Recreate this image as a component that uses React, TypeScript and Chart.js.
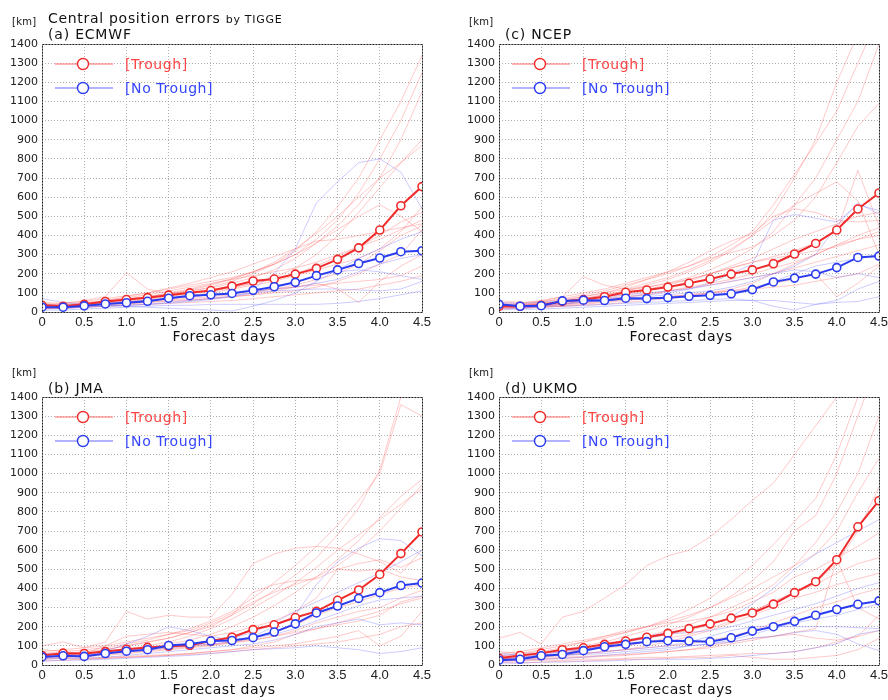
import React, { useEffect, useRef } from "react";
import { Chart, registerables } from "chart.js";
Chart.register(...registerables);

// ---------------- DATA ----------------
const DAYS = [0, 0.25, 0.5, 0.75, 1, 1.25, 1.5, 1.75, 2, 2.25, 2.5, 2.75, 3, 3.25, 3.5, 3.75, 4, 4.25, 4.5];
const X_TICK_LABELS = ["0", "0.5", "1.0", "1.5", "2.0", "2.5", "3.0", "3.5", "4.0", "4.5"];
const Y_MAX = 1400;
const LEGEND_LABELS = ["[Trough]", "[No Trough]"];
const MAIN_TITLE = "Central position errors";
const MAIN_TITLE_SUFFIX = "by TIGGE";
const X_TITLE = "Forecast days";
const UNIT = "[km]";

// (a) ECMWF
const ECMWF_TROUGH_MEAN = [35, 30, 40, 55, 65, 75, 88, 100, 112, 135, 162, 172, 198, 228, 275, 335, 428, 555, 655];
const ECMWF_NOTROUGH_MEAN = [25, 25, 32, 42, 48, 56, 72, 85, 90, 97, 113, 132, 155, 190, 220, 253, 282, 315, 320];
const ECMWF_TROUGH_CASES = [
  [20, 25, 35, 50, 60, 75, 90, 110, 130, 160, 200, 250, 320, 420, 550, 700, 900, 1100, 1340],
  [30, 35, 45, 55, 70, 80, 95, 110, 125, 150, 180, 220, 280, 360, 450, 560, 700, 900, 1150],
  [40, 30, 40, 60, 80, 100, 120, 140, 160, 180, 210, 250, 300, 380, 480, 620, 800, 1000, 1250],
  [25, 30, 35, 45, 55, 65, 80, 95, 110, 130, 150, 180, 230, 300, 400, 520, 650, 780, 900],
  [30, 45, 60, 80, 205, 120, 95, 100, 110, 125, 150, 170, 200, 240, 290, 340, 400, 470, 520],
  [20, 20, 30, 40, 50, 60, 70, 85, 100, 120, 140, 160, 190, 220, 250, 280, 330, 420, 550],
  [45, 40, 50, 60, 75, 90, 110, 130, 150, 170, 190, 210, 230, 260, 300, 340, 380, 430, 480],
  [30, 30, 35, 40, 45, 55, 65, 70, 80, 90, 100, 120, 140, 170, 200, 250, 320, 400, 450],
  [15, 20, 25, 30, 40, 50, 60, 65, 70, 80, 90, 100, 110, 130, 160, 200, 250, 300, 430],
  [50, 45, 55, 70, 85, 100, 125, 150, 180, 210, 250, 290, 330, 370, 380, 400, 420, 440, 460],
  [20, 25, 30, 40, 45, 50, 55, 60, 70, 80, 90, 110, 130, 150, 120, 50, 160, 240, 300],
  [35, 30, 40, 45, 55, 60, 70, 80, 90, 100, 110, 120, 130, 140, 150, 160, 170, 190, 240],
  [25, 20, 25, 30, 35, 40, 45, 50, 55, 60, 70, 80, 90, 100, 110, 120, 140, 160, 190],
  [40, 35, 45, 55, 65, 80, 95, 115, 140, 170, 210, 260, 330, 410, 500, 600, 700, 780, 870],
  [30, 30, 40, 50, 65, 80, 100, 120, 145, 175, 210, 250, 300, 360, 430, 500, 560, 500, 420],
];
const ECMWF_NOTROUGH_CASES = [
  [30, 25, 30, 40, 50, 60, 70, 80, 90, 100, 120, 200, 330, 570, 680, 780, 800, 730, 540],
  [70, 50, 40, 35, 30, 25, 20, 15, 10, 5, 30, 60, 100, 160, 220, 280, 330, 380, 420],
  [20, 20, 25, 30, 35, 40, 45, 55, 65, 80, 100, 130, 160, 190, 210, 220, 210, 190, 170],
  [10, 10, 15, 20, 25, 30, 35, 35, 40, 40, 40, 40, 40, 40, 45, 55, 70, 90, 110],
  [40, 35, 40, 50, 55, 60, 70, 80, 90, 100, 110, 120, 130, 150, 170, 210, 250, 280, 300],
  [25, 20, 25, 30, 35, 40, 50, 60, 70, 85, 100, 110, 115, 120, 120, 115, 110, 120, 160],
];

// (c) NCEP
const NCEP_TROUGH_MEAN = [30, 30, 35, 55, 65, 80, 103, 115, 130, 150, 172, 198, 220, 252, 303, 358, 428, 538, 622];
const NCEP_NOTROUGH_MEAN = [40, 30, 33, 58, 62, 60, 72, 70, 75, 82, 87, 95, 117, 157, 177, 198, 232, 285, 292];
const NCEP_TROUGH_CASES = [
  [30, 35, 45, 55, 70, 90, 110, 140, 170, 210, 260, 320, 400, 520, 700, 900, 1200, 1450, 1700],
  [40, 35, 50, 70, 90, 110, 140, 170, 200, 240, 290, 350, 420, 560, 720, 880, 1050, 1300, 1550],
  [25, 30, 40, 55, 70, 90, 110, 130, 150, 180, 220, 270, 330, 420, 560, 700, 900, 1100, 1400],
  [50, 45, 60, 80, 100, 120, 150, 180, 210, 240, 280, 310, 340, 400, 480, 600, 780, 970, 1090],
  [35, 40, 55, 80, 185, 140, 120, 130, 150, 170, 200, 230, 260, 290, 320, 360, 420, 740, 450],
  [30, 30, 40, 60, 80, 100, 130, 170, 210, 260, 320, 370, 410, 500, 540, 520, 480, 470, 480],
  [20, 25, 30, 40, 55, 70, 90, 110, 130, 160, 200, 240, 280, 330, 380, 420, 460, 500, 520],
  [45, 40, 45, 55, 70, 85, 100, 120, 140, 170, 200, 230, 260, 280, 300, 320, 340, 380, 420],
  [25, 25, 30, 40, 50, 60, 75, 90, 110, 130, 150, 170, 200, 230, 260, 300, 350, 380, 400],
  [35, 30, 35, 45, 55, 65, 80, 95, 110, 125, 140, 160, 180, 200, 230, 260, 290, 320, 350],
  [15, 20, 25, 30, 40, 50, 60, 70, 80, 90, 100, 110, 130, 150, 170, 200, 80, 150, 240],
  [30, 25, 30, 35, 45, 55, 65, 70, 80, 90, 100, 110, 120, 130, 140, 160, 180, 200, 250],
  [60, 50, 55, 65, 80, 100, 120, 150, 180, 220, 270, 330, 400, 480, 560, 620, 680, 580, 300],
  [20, 20, 25, 30, 35, 40, 50, 60, 70, 80, 100, 120, 150, 200, 250, 300, 350, 400, 440],
];
const NCEP_NOTROUGH_CASES = [
  [40, 35, 40, 50, 60, 70, 80, 90, 100, 120, 150, 200, 250, 480, 510, 490, 470, 560, 530],
  [30, 25, 30, 40, 50, 60, 70, 80, 90, 100, 110, 130, 160, 200, 240, 300, 450, 570, 510],
  [20, 20, 25, 30, 35, 40, 45, 50, 55, 60, 65, 70, 60, 30, 10, 40, 60, 120, 160],
  [10, 15, 15, 20, 25, 30, 35, 40, 45, 50, 55, 60, 60, 60, 50, 40, 50, 55, 80],
  [50, 45, 50, 60, 70, 80, 90, 100, 110, 120, 140, 160, 180, 200, 220, 210, 180, 200, 180],
  [35, 30, 35, 45, 55, 60, 65, 70, 75, 80, 90, 100, 120, 160, 200, 240, 260, 280, 300],
];

// (b) JMA
const JMA_TROUGH_MEAN = [50, 62, 60, 70, 82, 92, 98, 103, 125, 145, 185, 210, 248, 280, 338, 392, 473, 582, 695];
const JMA_NOTROUGH_MEAN = [42, 48, 45, 60, 72, 80, 102, 110, 125, 128, 143, 172, 215, 272, 308, 348, 378, 415, 428];
const JMA_TROUGH_CASES = [
  [60, 70, 80, 90, 110, 130, 160, 190, 230, 280, 350, 430, 520, 620, 730, 860, 1000, 1360, 1300],
  [50, 60, 70, 80, 100, 120, 140, 170, 210, 260, 320, 390, 470, 560, 680, 820, 1020, 1400, 1600],
  [40, 45, 50, 60, 75, 90, 110, 130, 160, 200, 250, 310, 380, 460, 550, 650, 770, 880, 970],
  [70, 80, 90, 100, 120, 140, 160, 180, 220, 270, 330, 380, 420, 460, 520, 600, 700, 820, 940],
  [30, 40, 50, 60, 80, 100, 120, 150, 190, 240, 300, 360, 430, 510, 600, 680, 760, 840, 920],
  [100, 120, 90, 120, 280, 240, 260, 250, 250, 370, 530, 580, 610, 620, 610, 580, 540, 480, 600],
  [80, 70, 60, 80, 100, 120, 140, 170, 200, 260, 380, 420, 440, 450, 500, 530, 550, 510, 560],
  [50, 40, 60, 100, 150, 160, 170, 160, 150, 170, 200, 230, 280, 350, 500, 490, 500, 460, 440],
  [40, 50, 45, 50, 60, 70, 80, 90, 100, 120, 140, 170, 210, 260, 300, 330, 370, 400, 420],
  [60, 55, 50, 55, 65, 75, 85, 95, 105, 115, 130, 150, 180, 220, 250, 280, 300, 350, 390],
  [30, 35, 30, 35, 40, 45, 50, 60, 70, 80, 100, 120, 160, 190, 220, 250, 280, 320, 350],
  [45, 40, 35, 40, 45, 50, 55, 60, 70, 80, 90, 100, 110, 130, 150, 180, 100, 150, 280],
  [50, 55, 60, 65, 70, 80, 90, 100, 110, 120, 130, 150, 170, 190, 210, 230, 260, 330, 360],
  [20, 25, 30, 35, 40, 45, 50, 55, 60, 70, 80, 90, 100, 110, 120, 140, 160, 200, 220],
];
const JMA_NOTROUGH_CASES = [
  [40, 45, 50, 70, 110, 150, 200, 180, 150, 130, 150, 200, 260, 420, 540, 610, 660, 650, 570],
  [50, 55, 60, 70, 80, 90, 100, 110, 120, 140, 170, 220, 280, 330, 380, 430, 480, 540, 600],
  [30, 35, 35, 40, 50, 60, 70, 80, 90, 100, 110, 130, 160, 200, 220, 240, 210, 220, 210],
  [20, 25, 25, 30, 35, 40, 45, 50, 60, 70, 80, 85, 90, 100, 90, 80, 60, 70, 90],
  [60, 55, 50, 60, 70, 80, 90, 100, 110, 120, 140, 160, 190, 230, 270, 310, 340, 350, 360],
];

// (d) UKMO
const UKMO_TROUGH_MEAN = [35, 50, 62, 80, 90, 108, 125, 145, 165, 190, 215, 245, 272, 318, 378, 435, 550, 722, 858];
const UKMO_NOTROUGH_MEAN = [25, 30, 48, 55, 75, 95, 108, 122, 127, 125, 122, 142, 177, 200, 228, 260, 290, 317, 335];
const UKMO_TROUGH_CASES = [
  [140, 170, 110, 250, 280, 350, 420, 520, 570, 600, 670, 760, 860, 950, 1100, 1250, 1400, 1550, 1700],
  [50, 60, 80, 100, 120, 140, 170, 200, 240, 290, 350, 430, 520, 630, 750, 870, 1100, 1400, 1700],
  [40, 50, 60, 80, 100, 120, 150, 180, 210, 250, 300, 360, 440, 540, 700, 780, 1000, 1300, 1600],
  [30, 40, 50, 60, 80, 100, 120, 150, 180, 210, 250, 300, 350, 420, 520, 640, 800, 1000, 1300],
  [60, 70, 90, 110, 130, 150, 170, 200, 230, 260, 300, 350, 400, 460, 520, 580, 700, 900, 1080],
  [20, 30, 40, 60, 80, 100, 120, 140, 160, 180, 210, 240, 280, 330, 380, 430, 530, 700, 930],
  [70, 60, 70, 90, 120, 150, 180, 200, 220, 230, 250, 280, 330, 380, 460, 500, 560, 620, 690],
  [40, 50, 60, 70, 80, 90, 100, 120, 140, 160, 190, 230, 280, 330, 380, 420, 480, 530, 560],
  [30, 35, 40, 50, 60, 70, 80, 100, 120, 150, 180, 220, 260, 300, 350, 380, 420, 450, 480],
  [50, 45, 50, 55, 60, 70, 80, 90, 100, 110, 130, 150, 180, 220, 260, 300, 330, 370, 400],
  [25, 25, 30, 35, 40, 45, 50, 60, 70, 80, 90, 110, 130, 150, 170, 190, 550, 300, 240],
  [35, 30, 35, 40, 45, 50, 55, 60, 70, 80, 100, 120, 140, 150, 160, 140, 130, 150, 180],
  [20, 20, 25, 25, 30, 30, 35, 40, 40, 45, 50, 55, 60, 60, 70, 90, 120, 150, 260],
  [15, 10, 15, 20, 20, 25, 30, 30, 35, 40, 40, 50, 40, 30, 30, 40, 50, 80, 140],
];
const UKMO_NOTROUGH_CASES = [
  [30, 40, 50, 70, 90, 110, 130, 150, 170, 190, 210, 250, 320, 400, 500, 580, 640, 700, 760],
  [50, 55, 60, 70, 80, 100, 120, 140, 160, 170, 180, 200, 230, 260, 290, 320, 360, 400, 430],
  [20, 25, 30, 35, 40, 50, 60, 70, 80, 100, 110, 130, 160, 190, 220, 240, 260, 290, 320],
  [40, 40, 45, 50, 60, 70, 80, 90, 100, 120, 150, 180, 200, 200, 200, 200, 200, 195, 190],
  [10, 10, 15, 15, 20, 20, 25, 30, 30, 30, 35, 40, 50, 60, 70, 90, 110, 160, 180],
  [60, 55, 50, 50, 55, 60, 70, 80, 90, 100, 110, 120, 140, 150, 170, 180, 160, 110, 75],
];

// ---------------- STYLE ----------------
const RED = "#f02a2a";
const BLUE = "#2a3cf0";
const FAINT_RED = "rgba(255,90,90,0.33)";
const FAINT_BLUE = "rgba(100,100,255,0.33)";
const LEGEND_LINE = ["rgba(255,120,120,0.75)", "rgba(120,120,255,0.75)"];
const LEGEND_TEXT = ["#ff4545", "#3545ff"];
const FONT = "'DejaVu Sans', sans-serif";

const PAD_L = 42;
const PAD_T = 44;
const PAD_R = 22;
const PAD_B = 40;
const PLOT_W = 380;
const PLOT_H = 268;

type PanelProps = {
  left: number;
  top: number;
  troughMean: number[];
  noTroughMean: number[];
  troughCases: number[][];
  noTroughCases: number[][];
};

const toPts = (arr: number[]) => DAYS.map((d, i) => ({ x: d, y: arr[i] }));

const framePlugin = {
  id: "frameAndLegend",
  afterDraw(chart: any) {
    const { ctx, chartArea } = chart;
    const { left, top, right, bottom } = chartArea;
    ctx.save();
    ctx.strokeStyle = "#222";
    ctx.lineWidth = 1;
    ctx.setLineDash([2, 1]);
    ctx.strokeRect(Math.round(left) + 0.5, Math.round(top) + 0.5, Math.round(right - left), Math.round(bottom - top));
    ctx.setLineDash([]);
    const colors = [RED, BLUE];
    for (let i = 0; i < 2; i++) {
      const y = top + 20 + 24 * i;
      ctx.strokeStyle = LEGEND_LINE[i];
      ctx.lineWidth = 1.3;
      ctx.beginPath();
      ctx.moveTo(left + 13, y);
      ctx.lineTo(left + 71, y);
      ctx.stroke();
      ctx.beginPath();
      ctx.arc(left + 41, y, 5.5, 0, Math.PI * 2);
      ctx.fillStyle = "#fff";
      ctx.fill();
      ctx.strokeStyle = colors[i];
      ctx.lineWidth = 1.4;
      ctx.stroke();
      ctx.fillStyle = LEGEND_TEXT[i];
      ctx.font = `14px ${FONT}`;
      (ctx as any).letterSpacing = "0.6px";
      ctx.textBaseline = "middle";
      ctx.textAlign = "left";
      ctx.fillText(LEGEND_LABELS[i], left + 83, y + 1);
      (ctx as any).letterSpacing = "0px";
    }
    ctx.restore();
  },
};

function Panel(p: PanelProps) {
  const ref = useRef<HTMLCanvasElement>(null);
  useEffect(() => {
    const datasets: any[] = [];
    datasets.push({
      data: toPts(p.noTroughMean),
      borderColor: BLUE,
      borderWidth: 2,
      pointRadius: 4,
      pointBorderWidth: 1.6,
      pointBackgroundColor: "#fff",
      pointBorderColor: BLUE,
    });
    datasets.push({
      data: toPts(p.troughMean),
      borderColor: RED,
      borderWidth: 2,
      pointRadius: 4,
      pointBorderWidth: 1.6,
      pointBackgroundColor: "#fff",
      pointBorderColor: RED,
    });
    p.noTroughCases.forEach((c) =>
      datasets.push({ data: toPts(c), borderColor: FAINT_BLUE, borderWidth: 1, pointRadius: 0 })
    );
    p.troughCases.forEach((c) =>
      datasets.push({ data: toPts(c), borderColor: FAINT_RED, borderWidth: 1, pointRadius: 0 })
    );
    const gridOpts = { color: "#b0b0b0", drawTicks: false, lineWidth: 1 };
    const borderOpts = { display: false, dash: [1, 2] };
    const chart = new Chart(ref.current as HTMLCanvasElement, {
      type: "line",
      data: { datasets },
      plugins: [framePlugin],
      options: {
        animation: false,
        responsive: false,
        devicePixelRatio: 1,
        layout: { padding: { left: 0, top: PAD_T, right: PAD_R, bottom: 0 } },
        elements: { line: { tension: 0 } },
        plugins: { legend: { display: false }, tooltip: { enabled: false } },
        events: [],
        scales: {
          x: {
            type: "linear",
            min: 0,
            max: 4.5,
            afterFit: (s: any) => {
              s.height = PAD_B;
            },
            border: borderOpts,
            grid: gridOpts,
            ticks: {
              stepSize: 0.5,
              padding: 3,
              color: "#222",
              font: { family: "'Liberation Sans', sans-serif", size: 13 },
              maxRotation: 0,
              autoSkip: false,
              callback: (_v: any, i: number) => X_TICK_LABELS[i],
            },
          },
          y: {
            type: "linear",
            min: 0,
            max: Y_MAX,
            afterFit: (s: any) => {
              s.width = PAD_L;
            },
            border: borderOpts,
            grid: gridOpts,
            ticks: {
              stepSize: 100,
              padding: 4,
              color: "#222",
              autoSkip: false,
              font: { family: FONT, size: 11 },
              callback: (v: any) => String(v),
            },
          },
        },
      },
    } as any);
    return () => chart.destroy();
  }, []);
  const w = PAD_L + PLOT_W + PAD_R;
  const h = PAD_T + PLOT_H + PAD_B;
  return (
    <canvas
      ref={ref}
      width={w}
      height={h}
      style={{ position: "absolute", left: p.left - PAD_L, top: p.top - PAD_T, width: w, height: h }}
    />
  );
}

const txt = (left: number, cy: number, size: number, content: any, extra: any = {}) => (
  <div
    style={{
      position: "absolute",
      left,
      top: cy - Math.round(size * 0.6),
      fontSize: size,
      lineHeight: `${Math.round(size * 1.2)}px`,
      fontFamily: FONT,
      color: "#111",
      whiteSpace: "nowrap",
      ...extra,
    }}
  >
    {content}
  </div>
);

export default function App() {
  useEffect(() => {
    document.body.style.margin = "0";
  }, []);
  const panels = [
    { left: 42, top: 44, name: "(a) ECMWF", tm: ECMWF_TROUGH_MEAN, nm: ECMWF_NOTROUGH_MEAN, tc: ECMWF_TROUGH_CASES, nc: ECMWF_NOTROUGH_CASES },
    { left: 499, top: 44, name: "(c) NCEP", tm: NCEP_TROUGH_MEAN, nm: NCEP_NOTROUGH_MEAN, tc: NCEP_TROUGH_CASES, nc: NCEP_NOTROUGH_CASES },
    { left: 42, top: 397, name: "(b) JMA", tm: JMA_TROUGH_MEAN, nm: JMA_NOTROUGH_MEAN, tc: JMA_TROUGH_CASES, nc: JMA_NOTROUGH_CASES },
    { left: 499, top: 397, name: "(d) UKMO", tm: UKMO_TROUGH_MEAN, nm: UKMO_NOTROUGH_MEAN, tc: UKMO_TROUGH_CASES, nc: UKMO_NOTROUGH_CASES },
  ];
  return (
    <div style={{ position: "relative", width: 888, height: 700, overflow: "hidden", background: "#fff" }}>
      {panels.map((p, i) => (
        <Panel
          key={i}
          left={p.left}
          top={p.top}
          troughMean={p.tm}
          noTroughMean={p.nm}
          troughCases={p.tc}
          noTroughCases={p.nc}
        />
      ))}
      {txt(48, 18, 14, (
        <>
          {MAIN_TITLE} <span style={{ fontSize: 11 }}>{MAIN_TITLE_SUFFIX}</span>
        </>
      ), { letterSpacing: "0.7px" })}
      {panels.map((p, i) => (
        <React.Fragment key={"t" + i}>
          {txt(p.left - 30, p.top - (i < 2 ? 22 : 24), 10, UNIT, { letterSpacing: "0.3px" })}
          {txt(p.left + 6, p.top - (i < 2 ? 10 : 9), 14, p.name, { letterSpacing: "0.8px" })}
          {txt(p.left + PLOT_W / 2 - 8, p.top + PLOT_H + 24, 14, X_TITLE, {
            letterSpacing: "0.5px",
            transform: "translateX(-50%)",
          })}
        </React.Fragment>
      ))}
    </div>
  );
}
